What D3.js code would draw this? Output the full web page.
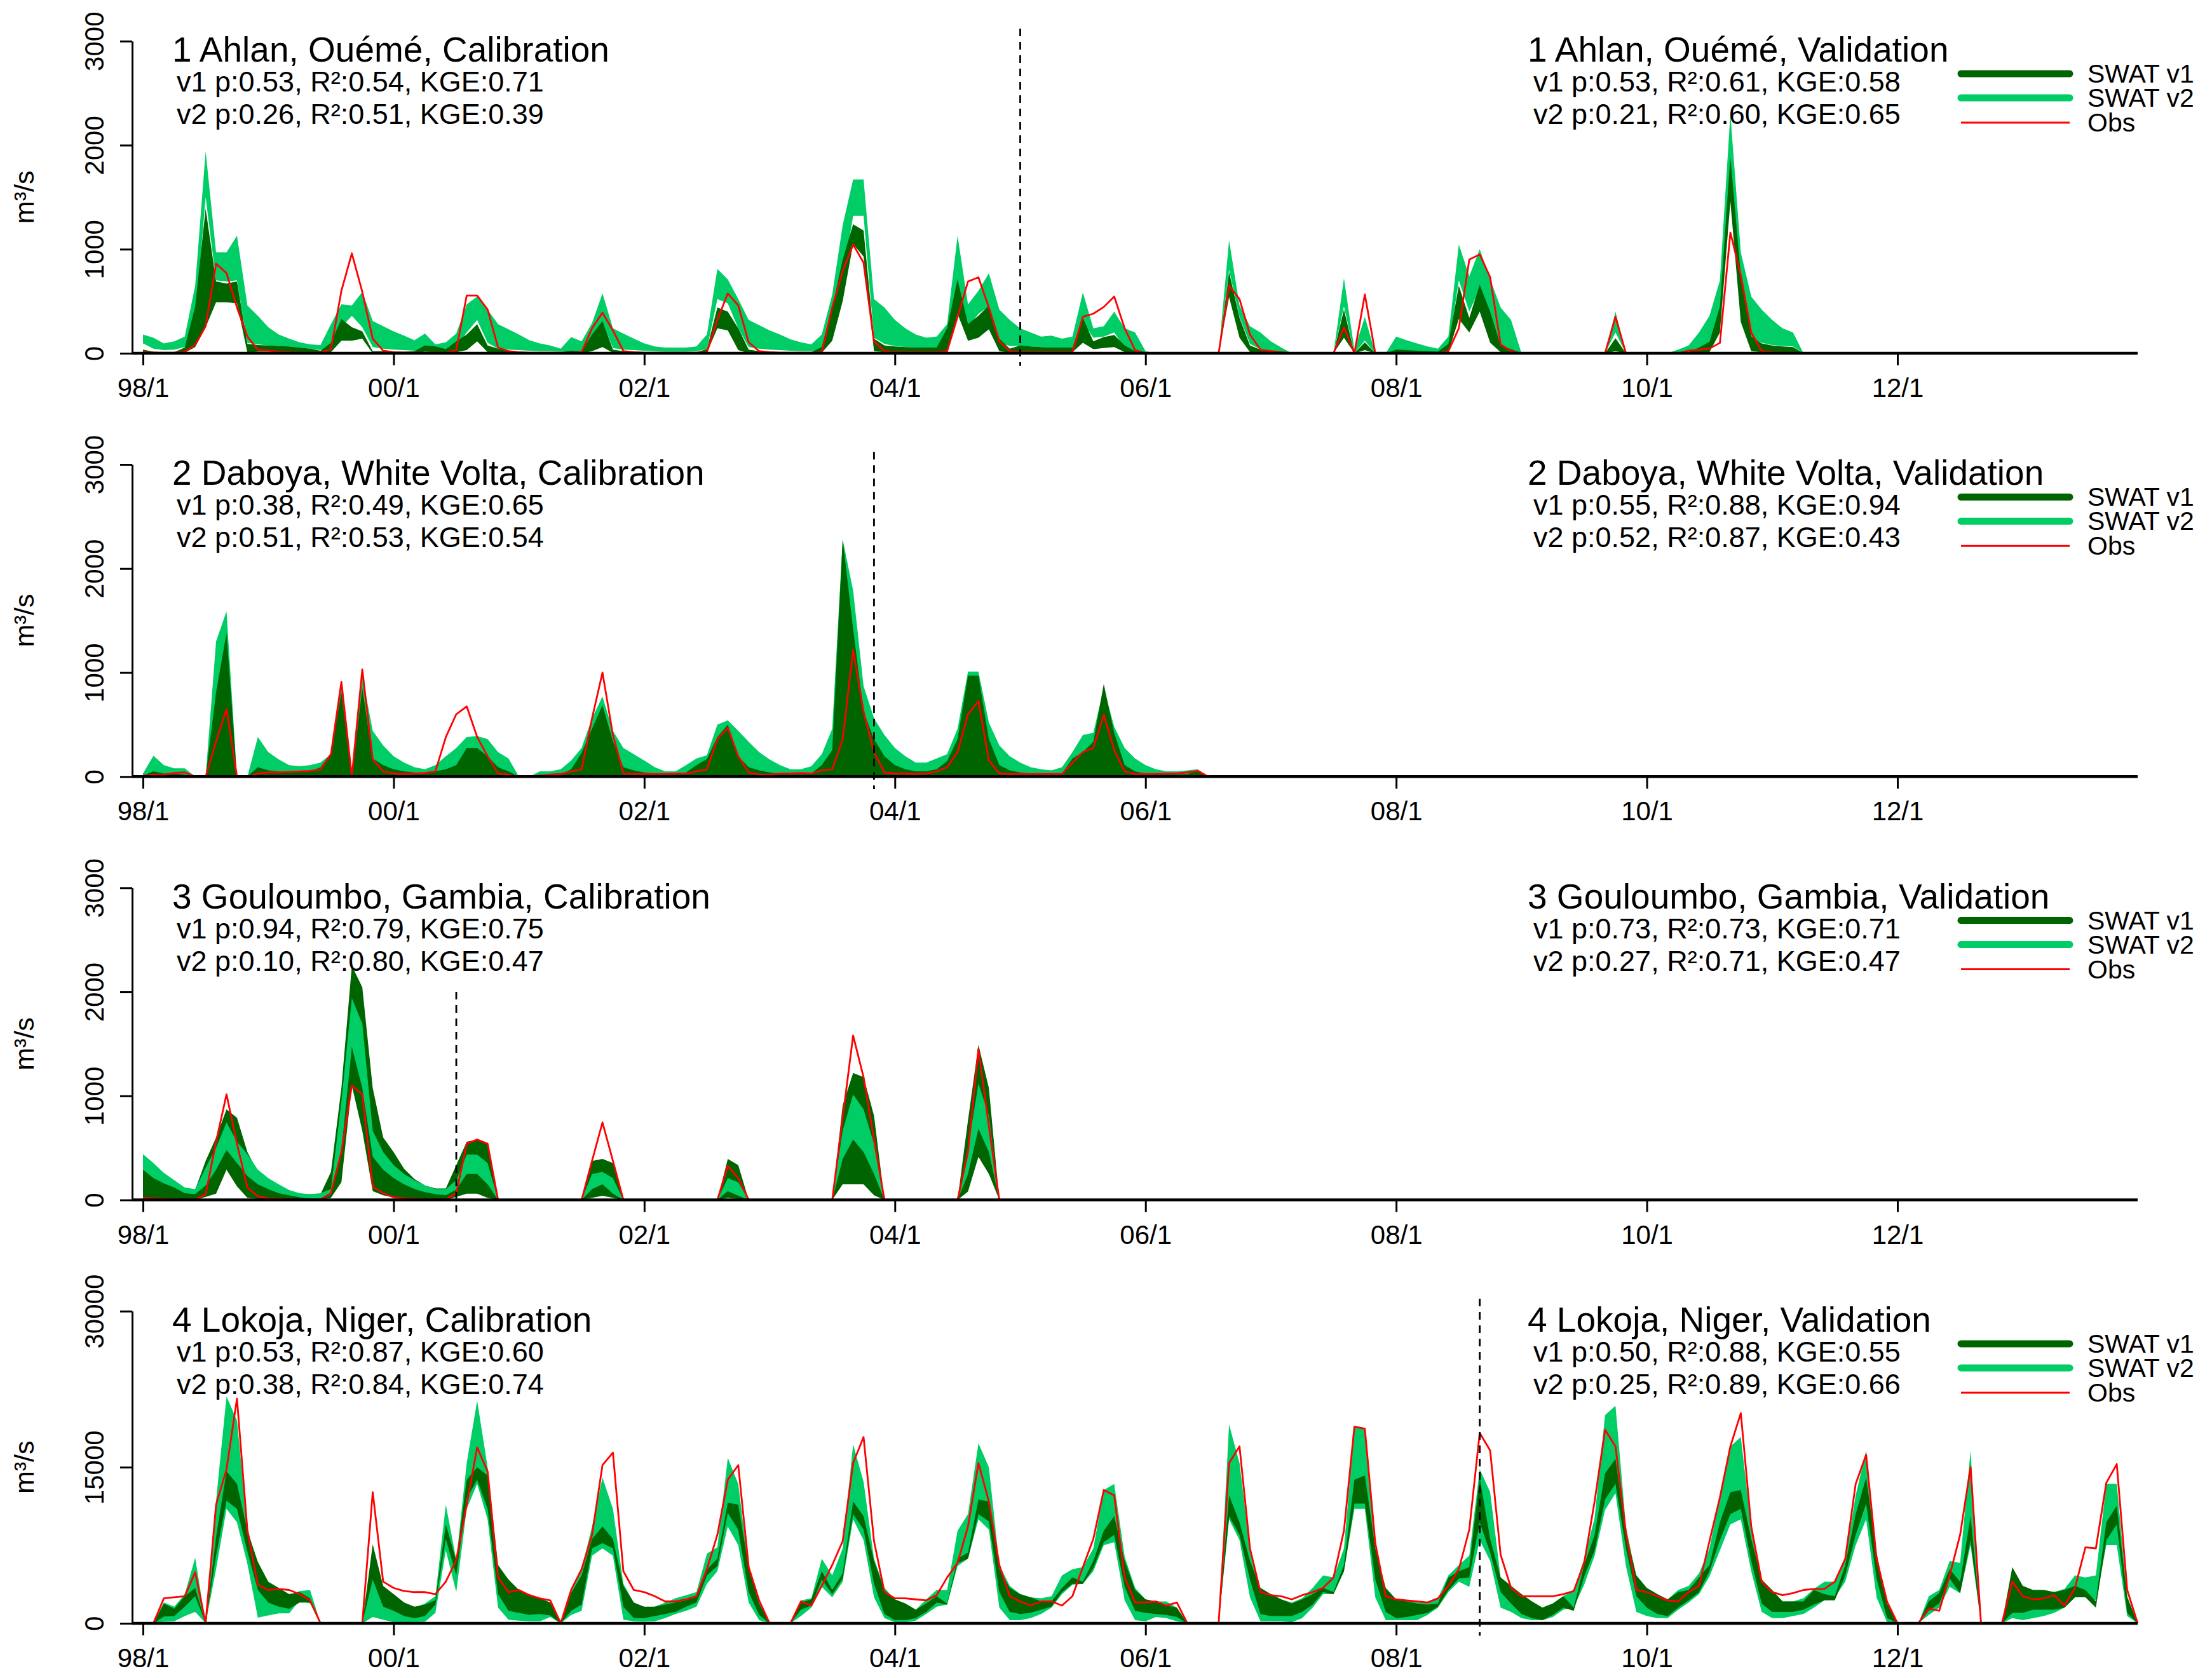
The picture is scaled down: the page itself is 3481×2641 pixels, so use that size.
<!DOCTYPE html>
<html>
<head>
<meta charset="utf-8">
<script src="https://cdn.jsdelivr.net/npm/d3@7"></script>
<style>
  body { margin: 0; background: #fff; }
  text { font-family: "Liberation Sans", Arial, sans-serif; }
</style>
</head>
<body>
<div id="chart"></div>
<script>
// ---- axis labels ----
const xTickMonths = [0, 24, 48, 72, 96, 120, 144, 168];
const xTickLabels = ["98/1", "00/1", "02/1", "04/1", "06/1", "08/1", "10/1", "12/1"];
const yTicksSmall = [0, 1000, 2000, 3000];
const yTicksLarge = [0, 15000, 30000];

const stationNames = ["1 Ahlan, Ouémé", "2 Daboya, White Volta", "3 Gouloumbo, Gambia", "4 Lokoja, Niger"];
const calStats = [
  ["v1 p:0.53, R²:0.54, KGE:0.71", "v2 p:0.26, R²:0.51, KGE:0.39"],
  ["v1 p:0.38, R²:0.49, KGE:0.65", "v2 p:0.51, R²:0.53, KGE:0.54"],
  ["v1 p:0.94, R²:0.79, KGE:0.75", "v2 p:0.10, R²:0.80, KGE:0.47"],
  ["v1 p:0.53, R²:0.87, KGE:0.60", "v2 p:0.38, R²:0.84, KGE:0.74"]
];
const valStats = [
  ["v1 p:0.53, R²:0.61, KGE:0.58", "v2 p:0.21, R²:0.60, KGE:0.65"],
  ["v1 p:0.55, R²:0.88, KGE:0.94", "v2 p:0.52, R²:0.87, KGE:0.43"],
  ["v1 p:0.73, R²:0.73, KGE:0.71", "v2 p:0.27, R²:0.71, KGE:0.47"],
  ["v1 p:0.50, R²:0.88, KGE:0.55", "v2 p:0.25, R²:0.89, KGE:0.66"]
];
// month index (0 = 1998/1) where validation starts
const splitMonths = [84, 70, 30, 128];
const legendLabels = ["SWAT v1", "SWAT v2", "Obs"];

// ---- 1 Ahlan (m3/s, monthly from 1998/1) ----
const p1V2Hi = [180,150,95,115,160,650,1940,970,970,1130, 460,360,250,180,140,105,85,80,280,470,
  460,590,310,260,210,170,125,190,85,105, 190,470,545,420,280,230,180,125,95,75,
  45,155,115,290,575,240,190,140,95,65, 55,55,55,65,180,810,710,520,320,270,
  220,180,135,105,85,180,565,1230,1670,1670, 520,440,320,240,180,150,160,280,1130,470,
  600,770,420,320,240,200,160,170,140,160, 585,240,260,400,240,200,20,0,0,0,
  0,0,0,0,1085,460,260,200,115,55, 0,0,0,0,0,720,30,350,0,0,
  160,125,95,65,45,160,1045,740,1000,710, 440,320,0,0,0,0,0,0,0,0,
  0,400,0,0,0,0,0,35,75,200, 360,700,2300,970,545,420,320,240,200,0];
const p1V2Lo = [95,45,30,35,60,300,1500,700,690,700, 100,85,75,70,65,55,45,30,60,250,
  360,250,60,45,35,30,25,30,25,25, 60,200,320,100,45,35,30,25,20,20,
  15,20,20,90,300,50,35,30,25,20, 15,15,15,20,40,520,480,240,60,45,
  35,30,25,20,20,30,250,700,1320,1320, 150,90,70,60,55,55,55,90,500,250,
  380,450,100,70,70,65,60,55,55,55, 300,150,160,200,50,20,0,0,0,0,
  0,0,0,0,800,350,90,40,20,10, 0,0,0,0,0,450,0,120,0,0,
  20,15,15,10,10,40,700,400,620,300, 60,30,0,0,0,0,0,0,0,0,
  0,200,0,0,0,0,0,0,10,30, 80,400,1700,600,150,100,80,70,65,0];
const p1V1Hi = [35,15,10,10,55,450,1390,690,670,690, 90,80,75,70,65,55,45,25,100,330,
  250,210,20,20,15,15,20,75,65,40, 115,180,280,75,45,25,15,10,10,10,
  10,25,20,180,310,35,20,15,10,10, 10,10,10,10,40,440,400,240,35,20,
  15,10,10,10,10,60,440,900,1240,1180, 140,75,65,60,55,55,55,240,710,280,
  360,460,140,45,75,65,60,55,55,55, 340,115,155,175,75,20,0,0,0,0,
  0,0,0,0,780,340,75,35,15,5, 0,0,0,0,0,420,0,105,0,0,
  35,30,25,20,15,90,650,340,660,400, 75,40,0,0,0,0,0,0,0,0,
  0,145,0,0,0,0,0,0,10,55, 110,450,1890,750,160,95,75,65,60,0];
const p1V1Lo = [5,0,0,0,5,60,250,490,490,480, 5,15,15,15,10,10,5,5,10,120,
  120,140,0,0,0,0,0,15,10,5, 10,30,115,10,5,0,0,0,0,0,
  0,0,0,20,60,5,0,0,0,0, 0,0,0,0,5,240,220,30,0,0,
  0,0,0,0,0,5,120,500,1050,930, 20,10,10,10,10,10,10,15,380,120,
  150,230,20,5,10,10,10,10,10,10, 100,40,50,60,10,0,0,0,0,0,
  0,0,0,0,540,150,10,5,0,0, 0,0,0,0,0,150,0,30,0,0,
  0,0,0,0,0,10,330,200,400,100, 10,5,0,0,0,0,0,0,0,0,
  0,20,0,0,0,0,0,0,0,5, 10,200,1460,300,20,10,10,5,5,0];
const p1Obs = [10,5,5,5,15,80,260,860,770,440, 160,35,25,15,10,5,5,5,40,600,
  960,590,140,25,10,5,5,5,5,5, 30,555,555,420,55,20,10,5,5,5,
  5,5,10,240,390,220,20,10,5,5, 5,5,5,5,10,320,575,460,105,20,
  10,5,5,5,5,10,440,790,1045,870, 115,20,10,10,10,10,10,20,350,690,
  730,440,115,20,10,10,10,10,10,10, 350,380,445,545,240,30,0,0,0,0,
  0,0,0,0,650,520,180,35,20,10, 0,0,0,0,0,250,0,565,0,0,
  0,0,0,0,0,20,240,900,950,730, 85,20,0,0,0,0,0,0,0,0,
  0,350,0,0,0,0,0,0,25,35, 45,100,1160,750,200,20,10,5,5,0];

// ---- 2 Daboya (bands start at 0) ----
const p2V2Hi = [30,200,110,80,80,0,0,1300,1590,0, 0,380,235,165,110,100,110,135,215,890,
  0,970,440,300,195,135,90,70,110,195, 275,380,390,360,235,175,0,0,50,50,
  70,155,275,560,770,440,275,215,155,90, 50,50,110,175,205,500,540,440,335,235,
  165,110,70,70,100,215,460,2280,1790,870, 560,400,275,195,135,135,175,215,460,1010,
  1010,520,300,195,135,90,70,60,90,235, 400,420,850,480,275,175,110,70,50,50,
  60,70,0];
const p2V1Hi = [10,50,30,30,20,0,0,810,1380,0, 0,90,60,50,45,45,50,90,230,810,
  0,850,175,110,70,50,40,35,50,70, 110,275,275,195,90,50,0,0,15,15,
  20,70,230,460,685,340,90,60,40,30, 25,25,40,110,170,380,500,195,90,60,
  40,30,25,25,30,110,255,2280,1420,625, 360,195,110,70,50,50,70,150,360,970,
  970,360,110,60,40,30,25,25,30,175, 235,335,890,420,110,50,30,25,20,20,
  25,55,0];
const p2Obs = [10,20,20,35,40,0,0,340,650,0, 0,30,40,40,45,50,55,70,215,910,
  0,1030,165,50,30,25,30,35,50,380, 600,675,380,195,30,20,0,0,10,20,
  25,50,70,560,1000,400,30,25,25,25, 25,30,30,50,70,360,470,195,40,20,
  20,30,30,35,30,60,70,360,1220,625, 235,40,30,30,25,30,50,90,235,600,
  725,155,30,25,25,25,25,25,25,135, 235,275,595,255,50,25,25,25,30,30,
  40,55,0];

// ---- 3 Gouloumbo ----
const p3V1Lo = [25,15,5,0,0,0,30,60,290,130, 20,10,5,0,0,0,0,0,20,170,
  1100,665,85,45,25,10,5,0,0,0, 30,60,60,20,0,0,0,0,0,0,
  0,0,0,20,40,20,0,0,0,0, 0,0,0,0,0,0,20,10,0,0,
  0,0,0,0,0,0,0,150,150,150, 45,0,0,0,0,0,0,0,0,80,
  415,250,0];
const p3V1Hi = [400,330,240,170,110,100,375,600,870,790, 460,270,200,140,90,60,55,55,270,1075,
  2250,2045,1075,600,460,300,200,140,110,110, 335,560,580,540,0,0,0,0,0,0,
  0,0,0,375,395,355,0,0,0,0, 0,0,0,0,0,0,395,335,0,0,
  0,0,0,0,0,0,0,910,1220,1180, 810,0,0,0,0,0,0,0,0,765,
  1490,1075,0];
const p3V2Lo = [290,210,160,120,65,55,140,290,480,355, 230,150,105,65,45,25,15,15,50,480,
  1470,1075,415,290,210,150,105,75,55,45, 100,250,250,150,0,0,0,0,0,0,
  0,0,0,105,150,60,0,0,0,0, 0,0,0,0,0,0,85,40,0,0,
  0,0,0,0,0,0,0,395,580,460, 250,0,0,0,0,0,0,0,0,250,
  685,460,0];
const p3V2Hi = [440,355,260,190,120,105,310,500,745,560, 440,290,210,150,95,65,55,65,105,950,
  1940,1695,665,460,335,250,190,140,105,105, 190,435,435,355,0,0,0,0,0,0,
  0,0,0,250,270,210,0,0,0,0, 0,0,0,0,0,0,210,170,0,0,
  0,0,0,0,0,0,0,665,1015,870, 540,0,0,0,0,0,0,0,0,500,
  1120,810,0];
const p3Obs = [20,15,10,5,5,5,55,560,1015,540, 120,35,15,10,5,5,5,5,65,460,
  1100,1015,130,65,25,15,10,5,5,5, 65,540,580,540,0,0,0,0,0,0,
  0,0,0,375,745,375,0,0,0,0, 0,0,0,0,0,0,325,210,0,0,
  0,0,0,0,0,0,0,790,1580,1180, 580,0,0,0,0,0,0,0,0,460,
  1450,705,0];

// ---- 4 Lokoja ----
const p4V2Hi = [0,0,2000,1600,2800,6300,0,11800,21800,19500, 9300,5000,3800,3200,2700,3100,3200,0,0,0,
  0,0,6300,1600,2800,2000,1500,1900,2600,11400, 6100,15400,21400,15000,5600,4000,3000,2600,2400,2000,
  0,3000,5200,9300,14000,11000,3800,2000,1500,1600, 2000,2400,2700,3000,6700,7300,15900,13400,5400,2000,
  0,0,0,2200,2400,6200,4600,7200,17200,13600, 6200,3400,2300,1900,1300,2300,3200,3200,8900,10500,
  17300,15000,5600,3600,2800,2500,2400,2600,4600,5200, 5400,7200,12800,13400,6400,3400,2300,2100,2100,1500,
  0,0,0,0,19100,15400,7200,3400,2800,2300, 2000,2400,3400,4600,4400,7200,18900,18700,7200,3200,
  2300,2200,2000,2000,2400,4600,5600,6500,14800,12600, 4400,3600,2800,2100,1500,1900,2600,3200,6200,10100,
  20000,20900,9300,4400,3400,2800,2300,3200,3600,4800, 7200,12300,17000,17900,9300,4000,3200,2100,2100,2400,
  3300,4000,4000,6200,12300,16600,6200,500,0,0, 0,2600,3200,6000,5800,16600,0,0,0,4000,
  3400,3200,3200,3000,3300,4600,4400,4600,13400,13400, 2600,0];
const p4V2Lo = [0,0,150,200,700,1100,0,5200,11000,9700, 5700,550,750,950,950,2200,1900,0,0,0,
  0,0,600,350,100,100,100,150,1000,7000, 3000,11000,13400,10000,1500,350,250,200,200,600,
  0,800,1200,6500,7200,6500,350,200,150,200, 500,900,1200,1600,3800,5000,9300,7500,2000,300,
  0,0,0,700,1500,3500,2500,4000,10000,8000, 2500,500,100,100,250,900,1600,1800,5500,6200,
  10000,9000,1500,300,300,500,900,1500,2800,3700, 3800,5000,7500,7800,2200,300,200,600,500,200,
  0,0,0,0,10000,8000,2500,200,200,200, 100,500,1500,2800,2800,5000,11000,11000,2500,300,
  300,300,300,800,1500,3000,4000,3500,8000,6000, 1500,1100,500,300,300,600,1300,1500,3700,6500,
  10900,12500,5500,1100,700,500,500,1300,2000,2800, 4500,7000,9500,10000,5000,1100,500,500,700,900,
  1500,2200,2500,4000,7500,10000,2500,100,0,0, 0,800,1500,3500,2900,7500,0,0,0,500,
  300,500,700,1000,1500,2500,2500,2200,7500,7500, 700,0];
const p4V1Hi = [0,0,1900,1400,2600,3400,0,8300,14600,13400, 8900,5900,4000,3400,2800,3000,2400,0,0,0,
  0,0,7600,3600,2800,2000,1600,1800,2200,9500, 6000,13800,15000,14200,5600,4200,3200,2800,2400,2000,
  0,2900,4600,8100,9300,8100,3600,2000,1600,1600, 1800,2000,2200,2600,5200,6200,11600,11400,5400,1900,
  0,0,0,2000,2300,5000,3200,4800,11700,10300, 6000,3200,2300,1900,1300,1900,2600,1900,6200,6800,
  11900,11700,5200,3400,2800,2500,2100,2100,3400,4400, 4000,6000,8900,10300,6000,3200,2300,2100,1700,1500,
  0,0,0,0,12300,9700,6000,3400,2800,2300, 1900,2300,2800,3400,3000,5600,13800,14200,7200,3400,
  2300,2100,1900,1800,1900,4400,5000,5400,14000,8100, 4400,3600,2800,2100,1500,1900,2600,1500,5600,8500,
  14400,15800,8700,4600,3400,2800,2300,3000,3200,4400, 5600,9700,12600,12800,8100,4200,3200,2100,2100,2100,
  3200,2800,2600,5600,10500,14000,6800,1900,0,0, 0,2100,2900,5200,4000,10300,0,0,0,5400,
  3600,3200,3200,3000,3200,3600,3200,2100,9700,11300, 2500,0];
const p4V1Lo = [0,0,650,700,1600,2600,0,6500,11800,11000, 6900,3200,2000,1600,1400,2000,2000,0,0,0,
  0,0,4200,1600,1200,700,500,700,1800,8100, 4600,12000,13800,11000,2800,1200,1000,800,900,750,
  0,1200,1800,7200,7700,7200,1600,500,500,700, 900,1100,1600,2000,4600,5500,10600,9000,3000,800,
  0,0,0,1300,1700,4200,2800,4300,10500,9000, 3800,900,300,300,500,1100,2000,1800,5800,6200,
  10500,9800,3000,1100,900,1000,1300,1600,3000,3800, 3800,5300,7800,8500,3500,1200,1000,900,800,600,
  0,0,0,0,10300,8500,4200,900,700,700, 700,1100,1800,3000,2800,5000,11500,11500,4200,1100,
  500,600,800,1000,1600,3200,4300,4400,9700,6800, 3000,1900,900,500,300,800,1500,1200,4500,7000,
  11900,13400,7200,2600,1500,900,700,1500,2200,3000, 5000,8000,10500,11000,6000,1900,1100,1100,1100,1300,
  1800,2200,2200,4600,8500,11500,4300,500,0,0, 0,1200,1900,4300,2900,8000,0,0,0,1000,
  1000,1300,1300,1300,1500,2500,2500,1500,8000,9500, 1000,0];
const p4Obs = [0,0,2400,2500,2600,4900,0,11400,14800,21600, 8900,3700,3200,3300,3200,2800,2200,0,0,0,
  0,0,12600,4000,3400,3100,3000,3000,2800,4000, 6100,11400,16900,14600,4400,3000,3200,2700,2400,2200,
  0,3200,5200,8500,15200,16400,5000,3200,3000,2600, 2100,2100,2300,2600,5200,8500,13800,15200,5400,2200,
  0,0,0,2100,1700,3600,5600,7900,15400,17900, 7900,3000,2400,2400,2300,2200,2700,4400,5800,9300,
  15400,11700,5600,2600,2100,1700,2100,2100,1700,2600, 5400,8100,12800,12300,4400,2000,2000,2100,1700,2000,
  0,0,0,0,15400,17000,7200,3000,2700,2600, 2300,2700,3000,3400,4400,8900,18900,18700,7700,2600,
  2300,2200,2100,2000,2400,3600,5200,9000,18300,16600, 6600,3400,2600,2600,2600,2600,2800,3100,5800,11700,
  18600,17000,8700,3200,3000,2600,2200,2100,3000,3600, 7900,12100,17000,20200,9300,4000,3000,2700,2900,3200,
  3300,3300,4000,6200,13400,16200,6200,2100,0,0, 0,1400,1200,4600,8500,15000,0,0,0,4000,
  2600,2300,2400,2700,1700,3400,7300,7200,13500,15300, 3200,0];

// ---- layout ----
const W = 3481, H = 2641;
const panelStep = 666.3;
const firstZero = 556;
const plotH = 491.3;
const yAxisX = 208;
const colV1 = "#006400", colV2 = "#00cd66", colObs = "#ff0000";

const panels = [
  { obs: p1Obs, v1lo: p1V1Lo, v1hi: p1V1Hi, v2lo: p1V2Lo, v2hi: p1V2Hi, yMax: 3000, ticks: yTicksSmall, splitTop: null, v2OnTop: false },
  { obs: p2Obs, v1lo: null, v1hi: p2V1Hi, v2lo: null, v2hi: p2V2Hi, yMax: 3000, ticks: yTicksSmall, splitTop: null, v2OnTop: false },
  { obs: p3Obs, v1lo: p3V1Lo, v1hi: p3V1Hi, v2lo: p3V2Lo, v2hi: p3V2Hi, yMax: 3000, ticks: yTicksSmall, splitTop: 2000, v2OnTop: true },
  { obs: p4Obs, v1lo: p4V1Lo, v1hi: p4V1Hi, v2lo: p4V2Lo, v2hi: p4V2Hi, yMax: 30000, ticks: yTicksLarge, splitTop: null, v2OnTop: false }
];

const svg = d3.select("#chart").append("svg")
  .attr("width", W).attr("height", H)
  .attr("viewBox", `0 0 ${W} ${H}`);
svg.append("rect").attr("width", W).attr("height", H).attr("fill", "#fff");

const x = d3.scaleLinear().domain([0, 191]).range([225, 3364]);

panels.forEach((p, i) => {
  const zero = firstZero + i * panelStep;
  const y = d3.scaleLinear().domain([0, p.yMax]).range([zero, zero - plotH]);
  const g = svg.append("g");

  const band = (lo, hi) => d3.area()
    .x((d, k) => x(k))
    .y0((d, k) => y(lo ? lo[k] : 0))
    .y1((d, k) => y(hi[k]));

  const drawV1 = () => g.append("path").datum(p.v1hi).attr("d", band(p.v1lo, p.v1hi)).attr("fill", colV1);
  const drawV2 = () => g.append("path").datum(p.v2hi).attr("d", band(p.v2lo, p.v2hi)).attr("fill", colV2);
  if (p.v2OnTop) { drawV1(); drawV2(); } else { drawV2(); drawV1(); }

  g.append("path").datum(p.obs)
    .attr("d", d3.line().x((d, k) => x(k)).y(d => y(d)))
    .attr("fill", "none").attr("stroke", colObs)
    .attr("stroke-width", 2.8).attr("stroke-linejoin", "round");

  // calibration / validation split
  const sx = x(splitMonths[i]);
  g.append("line")
    .attr("x1", sx).attr("x2", sx)
    .attr("y1", y(p.splitTop !== null ? p.splitTop : p.yMax * 1.04))
    .attr("y2", y(-p.yMax * 0.04))
    .attr("stroke", "#000").attr("stroke-width", 2.8)
    .attr("stroke-dasharray", "12,9");

  // y axis
  const ya = g.append("g").attr("transform", `translate(${yAxisX},0)`)
    .call(d3.axisLeft(y).tickValues(p.ticks).tickSize(19).tickSizeOuter(0).tickFormat(d3.format("d")));
  ya.select(".domain").attr("stroke-width", 3);
  ya.selectAll(".tick line").attr("stroke-width", 3);
  ya.selectAll(".tick text")
    .attr("transform", "rotate(-90)")
    .attr("x", 0).attr("y", -45).attr("dy", null)
    .attr("text-anchor", "middle")
    .attr("font-size", 42)
    .attr("font-family", "Liberation Sans, Arial, sans-serif");

  // x axis
  const xa = g.append("g").attr("transform", `translate(0,${zero})`)
    .call(d3.axisBottom(x).tickValues(xTickMonths).tickFormat((d, k) => xTickLabels[k]).tickSize(19).tickSizeOuter(0));
  xa.select(".domain").remove();
  xa.selectAll(".tick line").attr("stroke-width", 3);
  xa.selectAll(".tick text")
    .attr("y", 69).attr("dy", null)
    .attr("font-size", 42)
    .attr("font-family", "Liberation Sans, Arial, sans-serif");
  g.append("line")
    .attr("x1", yAxisX).attr("x2", x(191))
    .attr("y1", zero).attr("y2", zero)
    .attr("stroke", "#000").attr("stroke-width", 4.5);

  // y label
  g.append("text")
    .attr("transform", `translate(53,${zero - plotH / 2}) rotate(-90)`)
    .attr("text-anchor", "middle")
    .attr("font-size", 43)
    .text("m³/s");

  // titles and statistics
  const blocks = [
    { xT: 271, xS: 278, title: stationNames[i] + ", Calibration", stats: calStats[i] },
    { xT: 2404, xS: 2413, title: stationNames[i] + ", Validation", stats: valStats[i] }
  ];
  blocks.forEach(b => {
    g.append("text").attr("x", b.xT).attr("y", zero - 459).attr("font-size", 55).text(b.title);
    b.stats.forEach((s, k) => {
      g.append("text").attr("x", b.xS).attr("y", zero - 412 + k * 51).attr("font-size", 45).text(s);
    });
  });

  // legend
  const legColors = [colV1, colV2, colObs];
  const legWidths = [11, 11, 3];
  const legY = [zero - 440, zero - 402, zero - 363];
  legendLabels.forEach((lab, k) => {
    g.append("line")
      .attr("x1", 3086).attr("x2", 3257)
      .attr("y1", legY[k]).attr("y2", legY[k])
      .attr("stroke", legColors[k]).attr("stroke-width", legWidths[k])
      .attr("stroke-linecap", k < 2 ? "round" : "butt");
    g.append("text").attr("x", 3285).attr("y", legY[k] + 14)
      .attr("font-size", 41).text(lab);
  });
});
</script>
</body>
</html>
